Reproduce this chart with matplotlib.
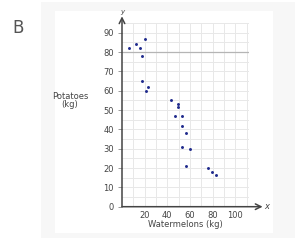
import matplotlib
matplotlib.use('Agg')
import matplotlib.pyplot as plt
from matplotlib.patches import Rectangle

# data
watermelons = [6, 12, 16, 20, 18, 18, 23, 21, 43, 49.5, 49.5, 47, 53, 53, 56, 53, 60, 56, 76, 79.5, 83]
potatoes = [82, 84, 82, 87, 78, 65, 62, 60, 55, 53, 51.5, 47, 47, 42, 38, 31, 30, 21, 20, 18, 16.5]
x_ticks = [20, 40, 60, 80, 100]
y_ticks = [0, 10, 20, 30, 40, 50, 60, 70, 80, 90]

W, H = 295, 240
fig = plt.figure(figsize=(W / 100, H / 100), dpi=100)

# light grey card with white inner panel (behind the axes)
fig.patches.append(Rectangle((41 / W, 2 / H), (W - 41) / W, 236 / H, transform=fig.transFigure,
                             facecolor='#f7f7f7', edgecolor='none', zorder=-2))
fig.patches.append(Rectangle((55 / W, 7 / H), 218 / W, 222 / H, transform=fig.transFigure,
                             facecolor='white', edgecolor='none', zorder=-1))
fig.text(18 / W, 1 - 28 / H, 'B', fontsize=12, color='#555555', ha='center', va='center')

x0, y0 = 122, 206.7
ax = plt.axes([x0 / W, 1 - y0 / H, 127 / W, 183.6 / H])
ax.set_xlim(0, 112)
ax.set_ylim(0, 95)
ax.patch.set_alpha(0)
for s in ax.spines.values():
    s.set_visible(False)

# grid
for v in range(10, 111, 10):
    ax.plot([v, v], [0, 95], color='#e8e8e8', lw=0.7, zorder=1)
for h in range(5, 96, 5):
    ax.plot([0, 112], [h, h], color='#e8e8e8', lw=0.7, zorder=1)
ax.plot([0, 112], [80, 80], color='#b5b5b5', lw=0.9, zorder=2)

# axes with arrows
ax.annotate('', xy=(0, 98.5), xytext=(0, 0), annotation_clip=False,
            arrowprops=dict(arrowstyle='->', color='#444444', lw=1.1, shrinkA=0, shrinkB=0))
ax.annotate('', xy=(124, 0), xytext=(0, 0), annotation_clip=False,
            arrowprops=dict(arrowstyle='->', color='#444444', lw=1.1, shrinkA=0, shrinkB=0))
ax.text(0, 101, 'y', fontsize=5, color='#444444', ha='center', va='center', style='italic')
ax.text(128, 0, 'x', fontsize=6, color='#444444', ha='center', va='center', style='italic')

ax.set_xticks(x_ticks)
ax.set_yticks(y_ticks)
ax.tick_params(axis='x', length=0, labelsize=6, labelcolor='#444444', pad=3)
ax.tick_params(axis='y', length=3, width=0.6, color='#888888', labelsize=6, labelcolor='#444444', pad=3)

ax.scatter(watermelons, potatoes, s=4.5, color='#1f2a8c', zorder=3, linewidths=0)

ax.set_xlabel('Watermelons (kg)', fontsize=6, color='#444444', labelpad=0)
ax.text(-46, 55, 'Potatoes\n(kg)', fontsize=6, color='#444444', ha='center', va='center',
        linespacing=0.9)

fig.savefig('out.png', dpi=100)
